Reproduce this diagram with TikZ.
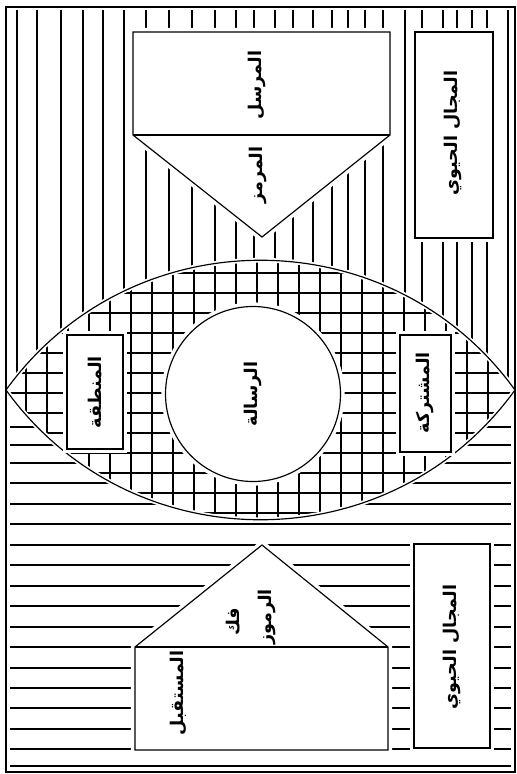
\documentclass[tikz,border=0pt]{standalone}
\usepackage{fontspec}
\newfontfamily\arabicfont[Script=Arabic]{DejaVu Sans}
\TeXXeTstate=1
\newcommand{\artext}[1]{\beginR #1\endR}

\tikzset{
  hatch/.style={line width=0.9pt},
  outline/.style={line width=1pt, fill=white, preaction={draw=white, line width=7pt}},
  lensline/.style={line width=1pt, preaction={draw=white, line width=4pt}},
  arlabel/.style={rotate=90, inner sep=0pt, font=\arabicfont\bfseries\fontsize{15}{18}\selectfont},
}

\begin{document}
\begin{tikzpicture}[x=0.03cm, y=-0.03cm]
  \useasboundingbox (0,0) rectangle (517,774);

  % === Sender zone — vertical hatching above the lens ===
  \begin{scope}
    \clip (6,390) .. controls (131,217) and (390,217) .. (515,390)
      -- (515,7) -- (6,7) -- cycle;
    \foreach \vx in {17,37,61,83,103,124,146,169,192,215,236,254,275,
                     293,313,332,348,365,383,405,422,443,457,472,487,508}
      \draw[hatch] (\vx,10) -- (\vx,390);
  \end{scope}

  % === Receiver zone — horizontal hatching below the lens ===
  \begin{scope}
    \clip (6,390) .. controls (131,563) and (390,563) .. (515,390)
      -- (515,772) -- (6,772) -- cycle;
    \foreach \hy in {427,445,463,483,504,524,545,565,586,606,627,647,
                     668,688,708,729,749,766}
      \draw[hatch] (10,\hy) -- (511,\hy);
  \end{scope}

  % === Shared zone — cross hatching inside the lens ===
  \begin{scope}
    \clip (6,390) .. controls (131,217) and (390,217) .. (515,390)
      .. controls (390,563) and (131,563) .. (6,390) -- cycle;
    \foreach \vx in {26,47,...,500}
      \draw[hatch] (\vx,250) -- (\vx,530);
    \foreach \hy in {273,293,...,513}
      \draw[hatch] (0,\hy) -- (517,\hy);
  \end{scope}
  \draw[lensline] (6,390) .. controls (131,217) and (390,217) .. (515,390)
    .. controls (390,563) and (131,563) .. (6,390) -- cycle;

  % Message circle and shared-zone boxes
  \draw[outline] (253,394) circle[radius=87.5];
  \node[arlabel] (message) at (253,394) {\artext{الرسالة}};
  \draw[outline] (67,335) rectangle (123,449);
  \node[arlabel] (zone) at (95,392) {\artext{المنطقة}};
  \draw[outline] (400,335) rectangle (451,452);
  \node[arlabel] (shared) at (425,393) {\artext{المشتركة}};

  % === Sender — box with encoder triangle ===
  \draw[outline] (133,135) -- (133,32) -- (390,32) -- (390,135)
    -- (262,237) -- cycle;
  \draw[line width=1pt] (133,135) -- (390,135);
  \node[arlabel] (sender) at (257,85) {\artext{المرسل}};
  \node[arlabel] (encoder) at (258,175) {\artext{المرمز}};

  % === Receiver — decoder triangle on box ===
  \draw[outline] (135,647) -- (262,545) -- (388,647) -- (388,750)
    -- (135,750) -- cycle;
  \draw[line width=1pt] (135,647) -- (388,647);
  \node[arlabel] (decode) at (233,622) {\artext{فك}};
  \node[arlabel] (symbols) at (267,617) {\artext{الرموز}};
  \node[arlabel] (receiver) at (178,693) {\artext{المستقبل}};

  % Life domain boxes
  \draw[outline] (415,32) rectangle (493,238);
  \node[arlabel] (domaintop) at (453,133) {\artext{المجال الحيوي}};
  \draw[outline] (414,544) rectangle (490,748);
  \node[arlabel] (domainbot) at (452,647) {\artext{المجال الحيوي}};

  % Frame
  \draw[line width=1.2pt] (6,7) rectangle (515,772);
\end{tikzpicture}
\end{document}
